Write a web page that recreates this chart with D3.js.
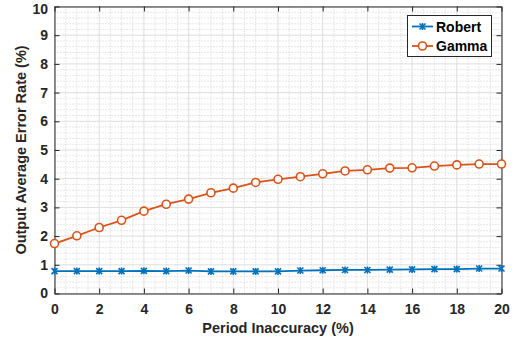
<!DOCTYPE html>
<html>
<head>
<meta charset="utf-8">
<script src="https://cdn.jsdelivr.net/npm/d3@7"></script>
<style>
  html, body { margin: 0; padding: 0; background: #fff; }
  svg { display: block; font-family: "Liberation Sans", Arial, sans-serif; }
</style>
</head>
<body>
<svg id="chart" width="520" height="343"></svg>
<script>
// Period inaccuracy (%) sampled at each integer step
const periodInaccuracy = [0,1,2,3,4,5,6,7,8,9,10,11,12,13,14,15,16,17,18,19,20];
// Output average error rate (%) for each method
const robertRate = [0.78,0.78,0.78,0.78,0.79,0.78,0.80,0.77,0.77,0.77,0.77,0.80,0.81,0.82,0.82,0.83,0.84,0.85,0.85,0.87,0.87];
const gammaRate  = [1.74,2.01,2.30,2.55,2.87,3.11,3.29,3.51,3.67,3.87,3.98,4.07,4.17,4.27,4.31,4.37,4.38,4.44,4.48,4.51,4.51];
const xTicks = [0,2,4,6,8,10,12,14,16,18,20];
const yTicks = [0,1,2,3,4,5,6,7,8,9,10];
const seriesNames = ["Robert", "Gamma"];
const seriesColors = ["#0072BD", "#D95319"];

const svg = d3.select("#chart");
const m = { left: 54.5, right: 501.5, top: 6.5, bottom: 293.5 };
const x = d3.scaleLinear().domain([0, 20]).range([m.left, m.right]);
const y = d3.scaleLinear().domain([0, 10]).range([m.bottom, m.top]);
const axisColor = "#262626";

// Minor grid (dotted)
const g = svg.append("g");
const xMinor = d3.range(0, 20.001, 0.5).filter(v => Math.abs(v / 2 - Math.round(v / 2)) > 1e-6);
const yMinor = d3.range(0, 10.001, 0.2).filter(v => Math.abs(v - Math.round(v)) > 1e-6);
g.selectAll(".xm").data(xMinor).join("line")
  .attr("x1", d => x(d)).attr("x2", d => x(d)).attr("y1", m.top).attr("y2", m.bottom)
  .attr("stroke", "#cfcfcf").attr("stroke-width", 1).attr("stroke-dasharray", "1,2");
g.selectAll(".ym").data(yMinor).join("line")
  .attr("y1", d => y(d)).attr("y2", d => y(d)).attr("x1", m.left).attr("x2", m.right)
  .attr("stroke", "#cfcfcf").attr("stroke-width", 1).attr("stroke-dasharray", "1,2");

// Major grid (solid, light)
g.selectAll(".xg").data(xTicks).join("line")
  .attr("x1", d => x(d)).attr("x2", d => x(d)).attr("y1", m.top).attr("y2", m.bottom)
  .attr("stroke", "#dedede").attr("stroke-width", 1);
g.selectAll(".yg").data(yTicks).join("line")
  .attr("y1", d => y(d)).attr("y2", d => y(d)).attr("x1", m.left).attr("x2", m.right)
  .attr("stroke", "#dedede").attr("stroke-width", 1);

// Axes with inward ticks on all four sides
const tickLen = 5;
function styleAxis(sel) {
  sel.select(".domain").attr("stroke", axisColor).attr("stroke-width", 1);
  sel.selectAll(".tick line").attr("stroke", axisColor).attr("stroke-width", 1);
  sel.selectAll(".tick text").attr("fill", axisColor)
    .style("font-size", "14px").style("font-weight", "bold")
    .style("font-family", "'Liberation Sans', Arial, sans-serif");
}
svg.append("g").attr("transform", `translate(0,${m.bottom})`)
  .call(d3.axisBottom(x).tickValues(xTicks).tickSize(-tickLen).tickPadding(11).tickSizeOuter(0))
  .call(styleAxis);
svg.append("g").attr("transform", `translate(0,${m.top})`)
  .call(d3.axisTop(x).tickValues(xTicks).tickSize(-tickLen).tickFormat("").tickSizeOuter(0))
  .call(styleAxis);
const yAxisLeft = svg.append("g").attr("transform", `translate(${m.left},0)`)
  .call(d3.axisLeft(y).tickValues(yTicks).tickSize(-tickLen).tickPadding(6.5).tickSizeOuter(0))
  .call(styleAxis);
// keep the topmost label inside the canvas
yAxisLeft.selectAll(".tick text").filter(d => d === 10).attr("dy", "0.48em");
svg.append("g").attr("transform", `translate(${m.right},0)`)
  .call(d3.axisRight(y).tickValues(yTicks).tickSize(-tickLen).tickFormat("").tickSizeOuter(0))
  .call(styleAxis);

// Series lines and markers
const series = [robertRate, gammaRate];
const line = d3.line().x((d, i) => x(periodInaccuracy[i])).y(d => y(d));
series.forEach((vals, si) => {
  const c = seriesColors[si];
  svg.append("path").datum(vals).attr("d", line)
    .attr("fill", "none").attr("stroke", c).attr("stroke-width", 1.8);
  const pts = svg.append("g").selectAll("g").data(vals).join("g")
    .attr("transform", (d, i) => `translate(${x(periodInaccuracy[i])},${y(d)})`);
  if (si === 0) {
    pts.append("path").attr("d", "M-3,-3L3,3M-3,3L3,-3M0,-3.5L0,3.5")
      .attr("stroke", c).attr("stroke-width", 1.6).attr("fill", "none");
  } else {
    pts.append("circle").attr("r", 4).attr("fill", "#fff")
      .attr("stroke", c).attr("stroke-width", 1.6);
  }
});

// Legend
const lg = svg.append("g");
lg.append("rect").attr("x", 407.5).attr("y", 15.5).attr("width", 84).attr("height", 41)
  .attr("fill", "#fff").attr("stroke", axisColor).attr("stroke-width", 1);
seriesNames.forEach((name, si) => {
  const ly = 26.5 + si * 19.5;
  const c = seriesColors[si];
  lg.append("line").attr("x1", 412).attr("x2", 433).attr("y1", ly).attr("y2", ly)
    .attr("stroke", c).attr("stroke-width", 1.8);
  if (si === 0) {
    lg.append("path").attr("transform", `translate(422.5,${ly})`)
      .attr("d", "M-3,-3L3,3M-3,3L3,-3M0,-3.5L0,3.5")
      .attr("stroke", c).attr("stroke-width", 1.6).attr("fill", "none");
  } else {
    lg.append("circle").attr("cx", 422.5).attr("cy", ly).attr("r", 4)
      .attr("fill", "#fff").attr("stroke", c).attr("stroke-width", 1.6);
  }
  lg.append("text").attr("x", 436).attr("y", ly + 5).text(name)
    .attr("fill", "#000").style("font-size", "14px").style("font-weight", "bold");
});

// Axis titles
svg.append("text").attr("x", (m.left + m.right) / 2).attr("y", 333)
  .attr("text-anchor", "middle").attr("fill", axisColor)
  .style("font-size", "14.5px").style("font-weight", "bold")
  .text("Period Inaccuracy (%)");
svg.append("text").attr("transform", `translate(26,${(m.top + m.bottom) / 2}) rotate(-90)`)
  .attr("text-anchor", "middle").attr("fill", axisColor)
  .style("font-size", "14.5px").style("font-weight", "bold")
  .text("Output Average Error Rate (%)");
</script>
</body>
</html>
